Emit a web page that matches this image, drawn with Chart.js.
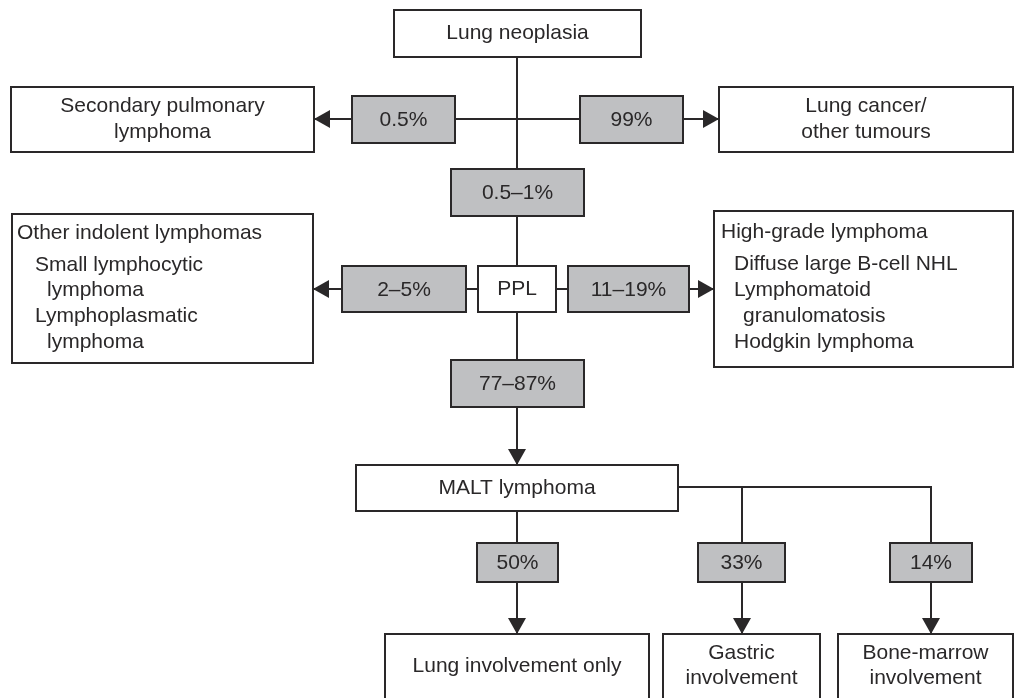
<!DOCTYPE html>
<html>
<head>
<meta charset="utf-8">
<script src="https://cdn.jsdelivr.net/npm/chart.js@4.4.1/dist/chart.umd.min.js"></script>
<style>
  html, body { margin: 0; padding: 0; background: #fff; }
</style>
</head>
<body>
<canvas id="flow" width="1015" height="698"></canvas>
<script>
// box texts
const nodeLines = [
  ['Lung neoplasia'],
  ['Secondary pulmonary', 'lymphoma'],
  ['Lung cancer/', 'other tumours'],
  ['PPL'],
  ['Other indolent lymphomas', 'Small lymphocytic', 'lymphoma', 'Lymphoplasmatic', 'lymphoma'],
  ['High-grade lymphoma', 'Diffuse large B-cell NHL', 'Lymphomatoid', 'granulomatosis', 'Hodgkin lymphoma'],
  ['MALT lymphoma'],
  ['Lung involvement only'],
  ['Gastric', 'involvement'],
  ['Bone-marrow', 'involvement']
];

// percentages on the branches
const branchPercents = ['0.5%', '99%', '0.5–1%', '2–5%', '11–19%', '77–87%', '50%', '33%', '14%'];

// layout, in axis units (x 0..1015, y 0..698 top-down)
const nodeBoxes = [
  [394, 10, 641, 57],
  [11, 87, 314, 152],
  [719, 87, 1013, 152],
  [478, 266, 556, 312],
  [12, 214, 313, 363],
  [714, 211, 1013, 367],
  [356, 465, 678, 511],
  [385, 634, 649, 706],
  [663, 634, 820, 706],
  [838, 634, 1013, 706]
];
const percentBoxes = [
  [352, 96, 455, 143],
  [580, 96, 683, 143],
  [451, 169, 584, 216],
  [342, 266, 466, 312],
  [568, 266, 689, 312],
  [451, 360, 584, 407],
  [477, 543, 558, 582],
  [698, 543, 785, 582],
  [890, 543, 972, 582]
];
// list-style boxes: left x of each line and its y
const listLayout = {
  4: { x: [17, 35, 47, 35, 47], y: [233, 265, 290, 316, 342] },
  5: { x: [721, 734, 734, 743, 734], y: [232, 264, 290, 316, 342] }
};
const bottomTextY = { 7: [666], 8: [653, 678], 9: [653, 678] };

const links = [
  { pts: [[517, 57], [517, 169]] },
  { pts: [[455, 119], [580, 119]] },
  { pts: [[352, 119], [314, 119]], arrow: true },
  { pts: [[683, 119], [719, 119]], arrow: true },
  { pts: [[517, 216], [517, 266]] },
  { pts: [[342, 289], [313, 289]], arrow: true },
  { pts: [[466, 289], [478, 289]] },
  { pts: [[556, 289], [568, 289]] },
  { pts: [[689, 289], [714, 289]], arrow: true },
  { pts: [[517, 312], [517, 360]] },
  { pts: [[517, 407], [517, 465]], arrow: true },
  { pts: [[517, 511], [517, 543]] },
  { pts: [[517, 582], [517, 634]], arrow: true },
  { pts: [[678, 487], [931, 487], [931, 543]] },
  { pts: [[742, 487], [742, 543]] },
  { pts: [[742, 582], [742, 634]], arrow: true },
  { pts: [[931, 582], [931, 634]], arrow: true }
];

const INK = '#2a2829';
const GREY = '#bfc0c2';
const FONT = '21px "Liberation Sans", Arial, sans-serif';

const flowPlugin = {
  id: 'flow',
  afterDraw(chart) {
    const {ctx, scales: {x, y}} = chart;
    const px = v => x.getPixelForValue(v);
    const py = v => y.getPixelForValue(v);
    ctx.save();
    ctx.lineWidth = 2;
    ctx.strokeStyle = INK;
    ctx.fillStyle = INK;

    // connectors
    links.forEach(l => {
      ctx.beginPath();
      l.pts.forEach((p, i) => {
        if (i === 0) ctx.moveTo(px(p[0]), py(p[1]));
        else ctx.lineTo(px(p[0]), py(p[1]));
      });
      ctx.stroke();
    });

    // boxes
    const drawBox = (b, fill) => {
      const x0 = px(b[0]), y0 = py(b[1]), x1 = px(b[2]), y1 = py(b[3]);
      ctx.fillStyle = fill;
      ctx.fillRect(x0, y0, x1 - x0, y1 - y0);
      ctx.strokeRect(x0, y0, x1 - x0, y1 - y0);
    };
    nodeBoxes.forEach(b => drawBox(b, '#fff'));
    percentBoxes.forEach(b => drawBox(b, GREY));

    // texts
    ctx.fillStyle = INK;
    ctx.font = FONT;
    ctx.textBaseline = 'middle';
    nodeLines.forEach((lines, i) => {
      const b = nodeBoxes[i];
      if (listLayout[i]) {
        ctx.textAlign = 'left';
        lines.forEach((t, j) => ctx.fillText(t, px(listLayout[i].x[j]), py(listLayout[i].y[j])));
        return;
      }
      ctx.textAlign = 'center';
      const cx = px((b[0] + b[2]) / 2);
      let ys;
      if (bottomTextY[i]) ys = bottomTextY[i];
      else {
        const cy = (b[1] + b[3]) / 2;
        ys = lines.map((t, j) => cy + (j - (lines.length - 1) / 2) * 26);
      }
      lines.forEach((t, j) => ctx.fillText(t, cx, py(ys[j])));
    });
    branchPercents.forEach((t, i) => {
      const b = percentBoxes[i];
      ctx.textAlign = 'center';
      ctx.fillText(t, px((b[0] + b[2]) / 2), py((b[1] + b[3]) / 2 + 1));
    });

    // arrowheads
    links.filter(l => l.arrow).forEach(l => {
      const n = l.pts.length;
      const [ax, ay] = l.pts[n - 2];
      const [bx, by] = l.pts[n - 1];
      const tx = px(bx), ty = py(by);
      const ang = Math.atan2(ty - py(ay), tx - px(ax));
      const len = 16, hw = 9;
      ctx.beginPath();
      ctx.moveTo(tx, ty);
      ctx.lineTo(tx - len * Math.cos(ang) - hw * Math.sin(ang), ty - len * Math.sin(ang) + hw * Math.cos(ang));
      ctx.lineTo(tx - len * Math.cos(ang) + hw * Math.sin(ang), ty - len * Math.sin(ang) - hw * Math.cos(ang));
      ctx.closePath();
      ctx.fill();
    });
    ctx.restore();
  }
};

new Chart(document.getElementById('flow'), {
  type: 'scatter',
  data: { datasets: [{ data: [], pointRadius: 0 }] },
  options: {
    responsive: false,
    animation: false,
    layout: { padding: 0 },
    plugins: { legend: { display: false }, tooltip: { enabled: false } },
    scales: {
      x: { type: 'linear', min: 0, max: 1015, display: false },
      y: { type: 'linear', min: 0, max: 698, reverse: true, display: false }
    }
  },
  plugins: [flowPlugin]
});
</script>
</body>
</html>
